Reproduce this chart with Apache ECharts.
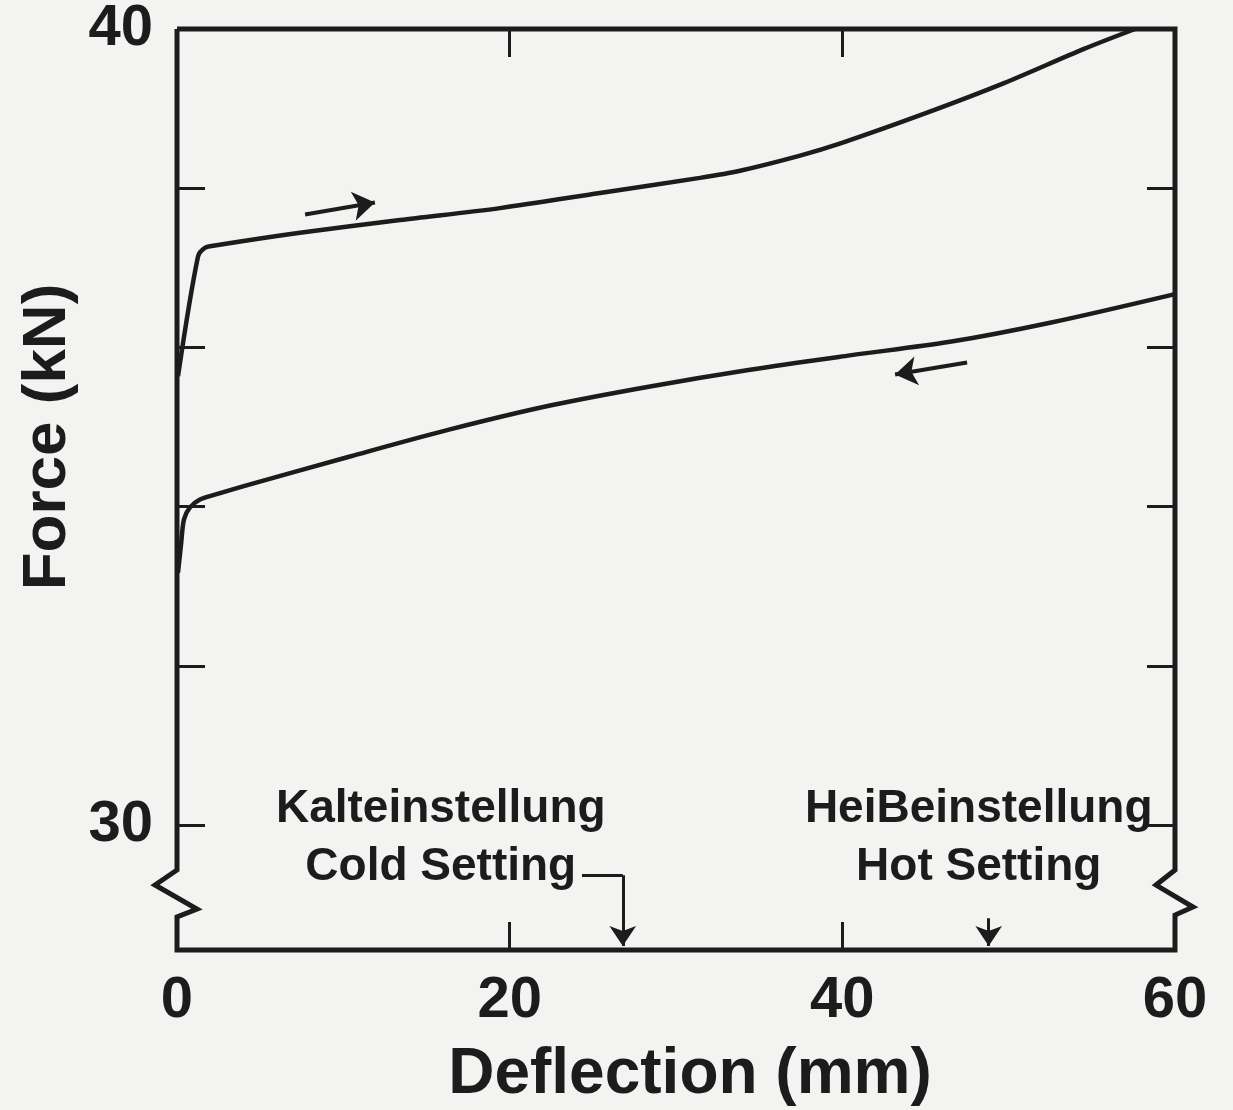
<!DOCTYPE html>
<html>
<head>
<meta charset="utf-8">
<title>Force vs Deflection</title>
<script src="https://cdn.jsdelivr.net/npm/echarts@6/dist/echarts.min.js"></script>
<style>
  html, body { margin: 0; padding: 0; background: #f3f3f1; }
  #chart { width: 1233px; height: 1110px; }
</style>
</head>
<body>
<div id="chart"></div>
<script>
// Loading branch: deflection (mm) and force (kN)
const loadDeflection = [0.06, 1.26, 1.68, 2.28, 7.39, 13.41, 19.42, 25.43, 31.44, 33.85, 37.46, 39.98, 44.85, 49.72, 54.53, 57.6];
const loadForce      = [35.64, 37.14, 37.25, 37.28, 37.44, 37.60, 37.75, 37.94, 38.13, 38.22, 38.41, 38.57, 38.93, 39.32, 39.75, 40.0];

// Unloading branch: deflection (mm) and force (kN)
const unloadDeflection = [0.06, 0.24, 0.42, 0.78, 1.38, 2.28, 4.39, 10.40, 16.41, 22.43, 28.44, 34.45, 40.46, 46.47, 52.49, 60.0];
const unloadForce      = [33.17, 33.52, 33.84, 33.99, 34.09, 34.15, 34.28, 34.63, 34.97, 35.27, 35.51, 35.72, 35.90, 36.07, 36.31, 36.67];

// Axis ticks and labels
const xLabelValues = [0, 20, 40, 60];
const xTickValues = [20, 40];
const yLabelValues = [30, 40];
const yTickValues = [30, 32, 34, 36, 38];

// Spring settings (mm)
const settingGerman = ['Kalteinstellung', 'HeiBeinstellung'];
const settingEnglish = ['Cold Setting', 'Hot Setting'];
const settingDeflection = [26.8, 48.8];

const ink = '#1c1c1c';
const fontFamily = '"Liberation Sans", Arial, Helvetica, sans-serif';
const yMin = 28.43;   // bottom of the broken force axis
const yMax = 40;

const zip = (xs, ys) => xs.map((x, i) => [x, ys[i]]);

const tick = (values) => ({
  show: true, inside: true, length: 28,
  customValues: values,
  lineStyle: { color: ink, width: 3 }
});
const hiddenLine = { show: false, onZero: false };

const chart = echarts.init(document.getElementById('chart'));

chart.setOption({
  backgroundColor: '#f3f3f1',
  animation: false,
  grid: { left: 177, right: 58, top: 28, bottom: 160 },
  xAxis: [
    {
      type: 'value', min: 0, max: 60, position: 'bottom',
      axisLine: hiddenLine, splitLine: { show: false },
      axisTick: tick(xTickValues),
      axisLabel: {
        customValues: xLabelValues, margin: 22,
        fontSize: 58, fontWeight: 'bold', color: ink, fontFamily
      }
    },
    {
      type: 'value', min: 0, max: 60, position: 'top',
      axisLine: hiddenLine, splitLine: { show: false },
      axisTick: tick(xTickValues), axisLabel: { show: false }
    }
  ],
  yAxis: [
    {
      type: 'value', min: yMin, max: yMax, position: 'left',
      axisLine: hiddenLine, splitLine: { show: false },
      axisTick: tick(yTickValues),
      axisLabel: {
        customValues: yLabelValues, margin: 24,
        fontSize: 58, fontWeight: 'bold', color: ink, fontFamily
      }
    },
    {
      type: 'value', min: yMin, max: yMax, position: 'right',
      axisLine: hiddenLine, splitLine: { show: false },
      axisTick: tick(yTickValues), axisLabel: { show: false }
    }
  ],
  series: [
    {
      name: 'loading', type: 'line', xAxisIndex: 0, yAxisIndex: 0,
      data: zip(loadDeflection, loadForce),
      symbol: 'none', smooth: 0.3,
      lineStyle: { color: ink, width: 4.5 }
    },
    {
      name: 'unloading', type: 'line', xAxisIndex: 0, yAxisIndex: 0,
      data: zip(unloadDeflection, unloadForce),
      symbol: 'none', smooth: 0.3,
      lineStyle: { color: ink, width: 4.5 }
    },
    {
      // direction of travel along each branch
      type: 'lines', coordinateSystem: 'cartesian2d', xAxisIndex: 0, yAxisIndex: 0,
      symbol: ['none', 'arrow'], symbolSize: 22,
      lineStyle: { color: ink, width: 4, opacity: 1 },
      data: [
        { coords: [[7.7, 37.67], [11.9, 37.82]] },
        { coords: [[47.5, 35.81], [43.17, 35.66]] }
      ]
    },
    {
      // setting markers pointing at the deflection axis
      type: 'lines', coordinateSystem: 'cartesian2d', xAxisIndex: 0, yAxisIndex: 0,
      symbol: ['none', 'arrow'], symbolSize: 20,
      lineStyle: { color: ink, width: 3, opacity: 1 },
      data: [
        { coords: [[settingDeflection[0], 29.37], [settingDeflection[0], yMin + 0.05]] },
        { coords: [[settingDeflection[1], 28.83], [settingDeflection[1], yMin + 0.05]] }
      ]
    },
    {
      // leader from the cold setting label
      type: 'lines', coordinateSystem: 'cartesian2d', xAxisIndex: 0, yAxisIndex: 0,
      symbol: 'none',
      lineStyle: { color: ink, width: 3, opacity: 1 },
      data: [
        { coords: [[settingDeflection[0] - 2.45, 29.37], [settingDeflection[0], 29.37]] }
      ]
    }
  ]
});

// Frame with break marks on both force axes, plus titles and setting notes
function drawOverlay() {
  const toPx = (x, y) => chart.convertToPixel({ gridIndex: 0 }, [x, y]);
  const [x0, yt] = toPx(0, yMax);
  const [x1, yb] = toPx(60, yMin);
  const y30 = toPx(0, 30)[1];

  const framePts = [
    [x0, yt], [x1, yt],
    [x1, y30 + 45], [x1 - 19, y30 + 60], [x1 + 18, y30 + 82], [x1, y30 + 90],
    [x1, yb], [x0, yb],
    [x0, y30 + 92], [x0 + 20, y30 + 84], [x0 - 22, y30 + 60], [x0, y30 + 45],
    [x0, yt]
  ];

  const textStyle = (text, size) => ({
    text, fill: ink, font: `bold ${size}px ${fontFamily}`,
    textAlign: 'center', textVerticalAlign: 'middle'
  });

  const graphics = [
    {
      type: 'polyline', z: 10,
      shape: { points: framePts },
      style: { stroke: ink, lineWidth: 5, fill: null, lineJoin: 'miter' }
    },
    {
      type: 'text', z: 10, x: (x0 + x1) / 2 + 14, y: yb + 125,
      style: textStyle('Deflection (mm)', 64)
    },
    {
      type: 'text', z: 10, x: 48, y: toPx(0, 35)[1] + 10, rotation: Math.PI / 2,
      style: textStyle('Force (kN)', 62)
    }
  ];

  const labelShift = [-182, -10];
  settingDeflection.forEach((d, i) => {
    const px = toPx(d, 30)[0] + labelShift[i];
    graphics.push(
      { type: 'text', z: 10, x: px, y: y30 - 16, style: textStyle(settingGerman[i], 46) },
      { type: 'text', z: 10, x: px, y: y30 + 42, style: textStyle(settingEnglish[i], 46) }
    );
  });

  chart.setOption({ graphic: graphics });
}
drawOverlay();
</script>
</body>
</html>
